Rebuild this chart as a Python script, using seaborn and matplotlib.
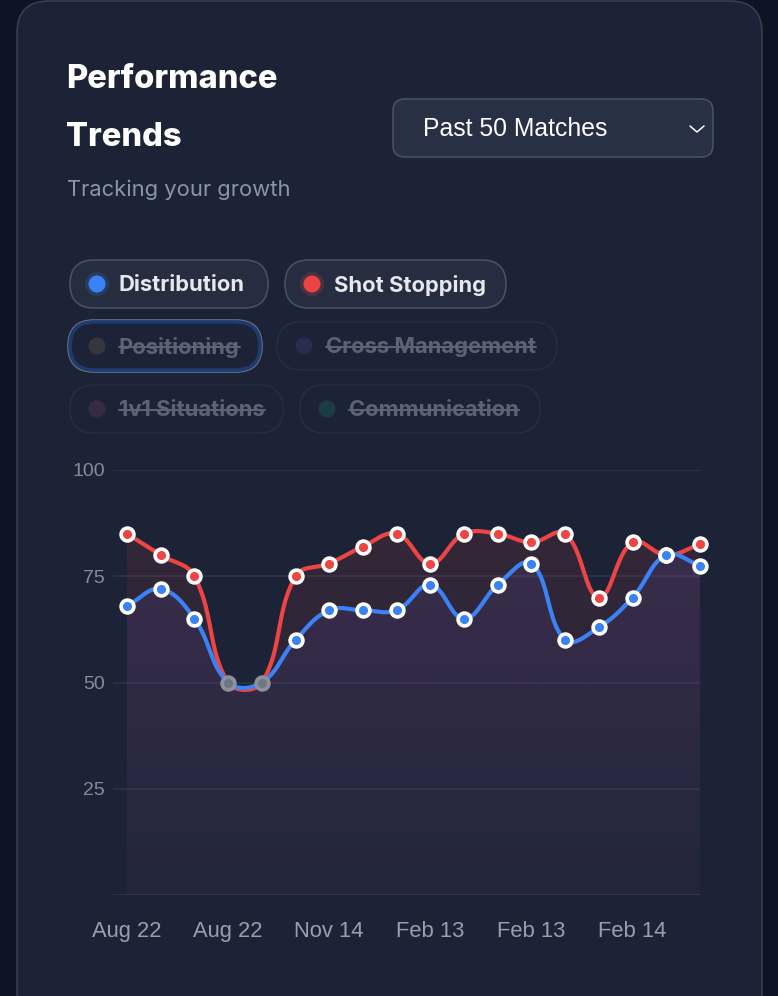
import numpy as np
import matplotlib
matplotlib.use("Agg")
import matplotlib.pyplot as plt
import seaborn as sns
from matplotlib.patches import FancyBboxPatch, Circle

# -------------------------------
# Data
# -------------------------------
matches = list(range(18))
tick_idx = [0, 3, 6, 9, 12, 15]
tick_labels = ["Aug 22", "Aug 22", "Nov 14", "Feb 13", "Feb 13", "Feb 14"]
distribution = [68, 72, 65, 50, 50, 60, 67, 67, 67, 73, 65, 73, 78, 60, 63, 70, 80, 77.5]
shot_stopping = [85, 80, 75, 50, 50, 75, 78, 82, 85, 78, 85, 85, 83, 85, 70, 83, 80, 82.5]
y_ticks = [25, 50, 75, 100]

legend_on = ["Distribution", "Shot Stopping"]
legend_off = ["Positioning", "Cross Management", "1v1 Situations", "Communication"]

BLUE = "#3b82f6"
RED = "#ef4444"
CARD = "#1c2336"
OUTSIDE = "#0d1423"
GRID = "#2c3346"
HEAD = ["Inter", "DejaVu Sans"]

sns.set_theme(style="dark")
plt.rcParams["font.family"] = ["Liberation Sans", "DejaVu Sans"]

fig = plt.figure(figsize=(7.78, 9.96), dpi=100)
fig.patch.set_facecolor(OUTSIDE)

# background axes in pixel units (y down)
bg = fig.add_axes([0, 0, 1, 1])
bg.set_xlim(0, 778)
bg.set_ylim(996, 0)
bg.axis("off")
bg.add_patch(FancyBboxPatch((17, 1), 745, 1030, boxstyle="round,pad=0,rounding_size=32",
                            facecolor=CARD, edgecolor="#363e52", lw=1.2))

# title block
bg.text(66, 88, "Performance", color="white", fontsize=23.5, fontweight="heavy",
        family=HEAD, va="baseline")
bg.text(66, 146, "Trends", color="white", fontsize=23.5, fontweight="heavy",
        family=HEAD, va="baseline")
bg.text(67, 196, "Tracking your growth", color="#8796ab", fontsize=15.8,
        family=HEAD, va="baseline")

# dropdown
bg.add_patch(FancyBboxPatch((393, 99), 320, 58, boxstyle="round,pad=0,rounding_size=12",
                            facecolor="#283045", edgecolor="#465066", lw=1.2))
bg.text(423, 129, "Past 50 Matches", color="white", fontsize=17.8, va="center")
bg.plot([690, 697, 704], [126, 132, 126], color="white", lw=1.1, solid_capstyle="round")

# legend pills
pills = [
    (legend_on[0], 70, 284, 198, BLUE, True),
    (legend_on[1], 285, 284, 221, RED, True),
    (legend_off[0], 70, 346, 190, "#35363e", False),
    (legend_off[1], 277, 346, 280, "#2a2c4f", False),
    (legend_off[2], 70, 409, 213, "#372a42", False),
    (legend_off[3], 300, 409, 240, "#1d3b44", False),
]
fig.canvas.draw()
renderer = fig.canvas.get_renderer()
for label, x0, yc, w, dot, active in pills:
    h = 48
    if active:
        bg.add_patch(FancyBboxPatch((x0, yc - h / 2), w, h, boxstyle="round,pad=0,rounding_size=24",
                                    facecolor="#262d40", edgecolor="#465064", lw=1.2))
        bg.add_patch(Circle((x0 + 27, yc), 12, color=dot, alpha=0.18, lw=0))
        txt_color = "#e6e8ee"
    else:
        if label == "Positioning":
            bg.add_patch(FancyBboxPatch((x0 - 2, yc - h / 2 - 2), w + 4, h + 4,
                                        boxstyle="round,pad=0,rounding_size=26",
                                        facecolor="none", edgecolor="#6a7182", lw=1.2))
            bg.add_patch(FancyBboxPatch((x0, yc - h / 2), w, h, boxstyle="round,pad=0,rounding_size=24",
                                        facecolor="#1c2336", edgecolor="#1d3b6e", lw=2.6))
        else:
            bg.add_patch(FancyBboxPatch((x0, yc - h / 2), w, h, boxstyle="round,pad=0,rounding_size=24",
                                        facecolor="#1c2336", edgecolor="#262d3f", lw=1.2))
        txt_color = "#5b6475"
    bg.add_patch(Circle((x0 + 27, yc), 8.5, color=dot, lw=0))
    t = bg.text(x0 + 49, yc + 1, label, color=txt_color, fontsize=15.8, fontweight="bold",
                family=HEAD, va="center")
    if not active:
        bb = t.get_window_extent(renderer)
        inv = bg.transData.inverted()
        (xa, _), (xb, _) = inv.transform([[bb.x0, bb.y0], [bb.x1, bb.y0]])
        bg.plot([xa, xb], [yc + 1, yc + 1], color=txt_color, lw=1.5)


# -------------------------------
# Smoothed lines (chart.js style bezier, tension 0.4)
# -------------------------------
SX, SY = 33.7, 4.25  # px per unit, used only to shape the curve


def smooth(xs, ys, tension=0.4, n=24):
    p = np.column_stack([np.asarray(xs, float) * SX, np.asarray(ys, float) * SY])
    m = len(p)
    c_in, c_out = p.copy(), p.copy()
    for i in range(m):
        prv, nxt = p[max(i - 1, 0)], p[min(i + 1, m - 1)]
        d01 = np.hypot(*(p[i] - prv))
        d12 = np.hypot(*(nxt - p[i]))
        tot = d01 + d12 if d01 + d12 > 0 else 1
        c_in[i] = p[i] - tension * d01 / tot * (nxt - prv)
        c_out[i] = p[i] + tension * d12 / tot * (nxt - prv)
    tt = np.linspace(0, 1, n)[:, None]
    segs = []
    for i in range(m - 1):
        a, b, c, d = p[i], c_out[i], c_in[i + 1], p[i + 1]
        seg = (1 - tt) ** 3 * a + 3 * (1 - tt) ** 2 * tt * b + 3 * (1 - tt) * tt ** 2 * c + tt ** 3 * d
        segs.append(seg if i == 0 else seg[1:])
    out = np.vstack(segs)
    return out[:, 0] / SX, out[:, 1] / SY


ax = fig.add_axes([113 / 778, 101 / 996, 587 / 778, 425 / 996])
ax.set_facecolor("none")


def gradient_fill(xs, ys, rgb, a_top, a_bot, z):
    poly = ax.fill_between(xs, ys, 0, facecolor="none", edgecolor="none")
    grad = np.zeros((256, 1, 4))
    grad[:, 0, :3] = matplotlib.colors.to_rgb(rgb)
    grad[:, 0, 3] = np.linspace(a_top, a_bot, 256)
    im = ax.imshow(grad, aspect="auto", extent=[min(xs), max(xs), 0, 100], origin="upper", zorder=z)
    im.set_clip_path(poly.get_paths()[0], ax.transData)


rx, ry = smooth(matches, shot_stopping)
bx, by = smooth(matches, distribution)
gradient_fill(rx, ry, RED, 0.13, 0.02, 1)
gradient_fill(bx, by, "#6d5fe0", 0.14, 0.04, 1.5)

for yv in y_ticks:
    ax.axhline(yv, color=GRID, lw=1.2, zorder=0.5)
ax.axhline(0, color=GRID, lw=1.5, zorder=0.5)

sns.lineplot(x=rx, y=ry, sort=False, estimator=None, color=RED, lw=3.0, ax=ax, zorder=3)
sns.lineplot(x=bx, y=by, sort=False, estimator=None, color=BLUE, lw=3.0, ax=ax, zorder=3.5)

hover = [3, 4]
for vals, col, z in [(shot_stopping, RED, 4), (distribution, BLUE, 4.5)]:
    xs = [m for m in matches if m not in hover]
    ys = [vals[m] for m in xs]
    sns.scatterplot(x=xs, y=ys, color=col, edgecolor="white", linewidth=2.6, s=85,
                    ax=ax, zorder=z, clip_on=False, legend=False)
sns.scatterplot(x=hover, y=[distribution[m] for m in hover], color="#6f7686", edgecolor="#8c919d",
                linewidth=2.6, s=85, ax=ax, zorder=5, clip_on=False, legend=False)

ax.set_xlim(-0.415, 17)
ax.set_ylim(0, 100)
ax.set_xticks(tick_idx)
ax.set_xticklabels(tick_labels)
ax.set_yticks(y_ticks)
ax.set_yticklabels([str(v) for v in y_ticks])
ax.tick_params(axis="x", colors="#9aa0ab", labelsize=15.8, length=0, pad=19)
ax.tick_params(axis="y", colors="#868c98", labelsize=14, length=0, pad=6)
ax.grid(False)
for s in ax.spines.values():
    s.set_visible(False)
ax.set_xlabel("")
ax.set_ylabel("")

fig.savefig("out.png", dpi=100, facecolor=fig.get_facecolor())
